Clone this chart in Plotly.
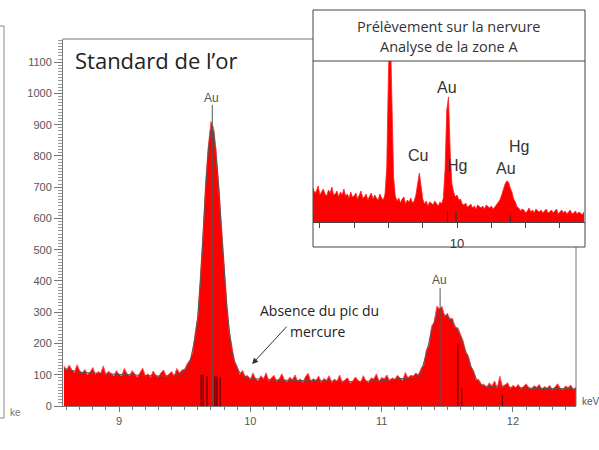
import plotly.graph_objects as go

# ---------------- main spectrum (Standard de l'or) ----------------
main_start_kev = 8.58
main_step_kev = 0.02
main_counts = [
    128, 115, 131, 116, 107, 132, 113, 106, 117, 100, 109, 123, 101, 110, 105, 128, 100, 111, 104, 96,
    113, 101, 96, 120, 104, 97, 113, 101, 92, 107, 121, 96, 103, 92, 112, 98, 93, 107, 115, 94,
    101, 110, 95, 120, 106, 115, 118, 136, 148, 170, 234, 284, 418, 550, 720, 832, 910, 888, 815, 692,
    574, 424, 332, 235, 185, 143, 127, 101, 114, 95, 97, 85, 106, 87, 81, 97, 87, 106, 81, 89,
    98, 80, 87, 103, 83, 78, 92, 84, 99, 80, 87, 76, 94, 105, 80, 87, 82, 96, 76, 88,
    82, 97, 75, 86, 79, 99, 75, 84, 90, 73, 80, 93, 82, 76, 97, 81, 75, 90, 86, 103,
    79, 91, 87, 99, 80, 90, 85, 98, 89, 82, 107, 90, 98, 96, 105, 99, 120, 130, 179, 194,
    255, 268, 319, 311, 318, 287, 297, 279, 280, 250, 250, 226, 209, 172, 161, 127, 113, 84, 84, 69,
    69, 60, 74, 64, 80, 58, 95, 62, 69, 74, 55, 66, 59, 69, 56, 62, 71, 59, 54, 65,
    60, 69, 54, 62, 57, 66, 52, 60, 71, 57, 52, 64, 59, 67, 53, 60,
]
main_kev = [round(main_start_kev + main_step_kev * i, 3) for i in range(len(main_counts))]

fit_kev = [8.58, 8.70, 8.90, 9.10, 9.30, 9.40, 9.46, 9.50, 9.54, 9.58, 9.60, 9.62, 9.64, 9.66,
           9.68, 9.70, 9.72, 9.74, 9.76, 9.78, 9.80, 9.82, 9.84, 9.86, 9.88, 9.90, 9.94, 10.00,
           10.20, 10.50, 10.80, 11.00, 11.20, 11.26, 11.30, 11.34, 11.38, 11.42, 11.44, 11.48,
           11.52, 11.56, 11.60, 11.64, 11.68, 11.72, 11.76, 11.80, 12.00, 12.20, 12.48]
fit_counts = [120, 108, 103, 99, 96, 97, 102, 112, 140, 220, 290, 400, 560, 700,
              820, 885, 880, 800, 700, 560, 430, 320, 240, 175, 140, 118, 98, 88,
              83, 80, 78, 81, 88, 92, 110, 165, 240, 295, 305, 292,
              276, 256, 222, 175, 125, 88, 66, 62, 59, 56, 55]

# element marker lines (keV, top in counts)
au_line_kev = [9.71, 11.445]
au_line_top = [963, 377]
minor_line_kev = [9.625, 9.64, 9.67, 9.73, 9.745, 9.77, 11.58, 11.61, 11.92]
minor_line_top = [100, 100, 95, 95, 95, 92, 200, 58, 35]

main_yticks = [0, 100, 200, 300, 400, 500, 600, 700, 800, 900, 1000, 1100]
main_xticks = [9, 10, 11, 12]

# ---------------- inset spectrum (zone A) ----------------
inset_start_kev = 5.80
inset_step_kev = 0.05
inset_counts = [
    34, 29, 31, 36, 27, 30, 33, 28, 26, 32, 29, 35, 27, 28, 31, 25, 30, 27, 33, 26,
    28, 24, 30, 25, 26, 29, 23, 27, 31, 24, 25, 28, 22, 26, 29, 23, 27, 24, 22, 28,
    24, 22, 28, 55, 150, 200, 120, 45, 26, 21, 24, 19, 23, 25, 18, 22, 20, 24, 19, 21,
    27, 38, 49, 36, 23, 18, 21, 16, 20, 19, 17, 21, 18, 16, 20, 18, 24, 52, 112, 125,
    70, 38, 30, 25, 27, 22, 23, 18, 17, 19, 15, 16, 18, 14, 16, 13, 17, 15, 14, 16,
    13, 17, 15, 14, 16, 13, 15, 17, 19, 22, 27, 33, 38, 41, 40, 34, 30, 23, 20, 15,
    14, 11, 13, 12, 9, 11, 14, 10, 12, 9, 13, 11, 10, 12, 9, 11, 13, 9, 10, 12,
    9, 11, 13, 8, 10, 12, 9, 11, 8, 10, 12, 8, 9, 11, 8, 10, 9, 7, 10,
]
inset_kev = [round(inset_start_kev + inset_step_kev * i, 3) for i in range(len(inset_counts))]
inset_marker_kev = [9.72, 9.97, 11.55]
inset_marker_top = [10, 10, 7]
inset_xticks = [6, 7, 8, 9, 10, 11, 12, 13]
inset_xticktext = ["", "", "", "", "10", "", "", ""]

inset_labels = [("Au", 447, 88), ("Cu", 418, 155), ("Hg", 457, 165), ("Hg", 519, 147), ("Au", 506, 168)]

W, H = 599, 442


def px(x):
    return x / W


def py(y):
    return 1 - y / H


fig = go.Figure()

# main spectrum
fig.add_trace(go.Scatter(x=main_kev, y=main_counts, mode="lines",
                         line=dict(color="#ff5050", width=1),
                         fill="tozeroy", fillcolor="#ff0000", hoverinfo="skip",
                         xaxis="x", yaxis="y"))

# marker lines
mx, my = [], []
for k, t in zip(au_line_kev, au_line_top):
    mx += [k, k, None]
    my += [0, t, None]
fig.add_trace(go.Scatter(x=mx, y=my, mode="lines", line=dict(color="#555555", width=1),
                         hoverinfo="skip", xaxis="x", yaxis="y"))
nx, ny = [], []
for k, t in zip(minor_line_kev, minor_line_top):
    nx += [k, k, None]
    ny += [0, t, None]
fig.add_trace(go.Scatter(x=nx, y=ny, mode="lines", line=dict(color="#5a0000", width=1.2),
                         hoverinfo="skip", xaxis="x", yaxis="y"))

# fit line
fig.add_trace(go.Scatter(x=fit_kev, y=fit_counts, mode="lines",
                         line=dict(color="#555555", width=1), hoverinfo="skip",
                         xaxis="x", yaxis="y"))

# inset spectrum
fig.add_trace(go.Scatter(x=inset_kev, y=inset_counts, mode="lines",
                         line=dict(color="#ff2020", width=0.8),
                         fill="tozeroy", fillcolor="#ff0000", hoverinfo="skip",
                         xaxis="x2", yaxis="y2"))
ix, iy = [], []
for k, t in zip(inset_marker_kev, inset_marker_top):
    ix += [k, k, None]
    iy += [0, t, None]
fig.add_trace(go.Scatter(x=ix, y=iy, mode="lines", line=dict(color="#333333", width=1.2),
                         hoverinfo="skip", xaxis="x2", yaxis="y2"))

tickfont = dict(family="Liberation Sans", size=11, color="#555555")
axcol = "#777777"

fig.update_layout(
    width=W, height=H, margin=dict(l=0, r=0, t=0, b=0, pad=0),
    paper_bgcolor="white", plot_bgcolor="white", showlegend=False,
    xaxis=dict(domain=[px(63), px(576)], range=[8.573, 12.48], showgrid=False, zeroline=False,
               showline=True, linecolor=axcol, linewidth=1,
               tickvals=main_xticks, ticks="outside", ticklen=5, tickcolor=axcol,
               minor=dict(dtick=0.1, tick0=0, ticks="outside", ticklen=3, tickcolor=axcol),
               tickfont=tickfont, anchor="y", automargin=False),
    yaxis=dict(domain=[py(406), py(39)], range=[0, 1174], showgrid=False, zeroline=False,
               showline=True, linecolor=axcol, linewidth=1,
               tickvals=main_yticks, ticks="outside", ticklen=8, tickcolor=axcol,
               minor=dict(dtick=10, tick0=0, ticks="outside", ticklen=4, tickcolor="#999999"),
               tickfont=tickfont, anchor="x", automargin=False),
    xaxis2=dict(domain=[px(313), px(585)], range=[5.8, 13.73], showgrid=False, zeroline=False,
                showline=True, linecolor="#444444", linewidth=1,
                tickvals=inset_xticks, ticktext=inset_xticktext, ticks="outside", ticklen=5,
                tickcolor="#444444", ticklabelstandoff=4, automargin=False,
                tickfont=dict(family="Liberation Sans", size=13, color="#333333"), anchor="y2"),
    yaxis2=dict(domain=[py(222), py(61)], range=[0, 161], visible=False, anchor="x2"),
)

shapes = [
    # main frame top & right
    dict(type="line", xref="paper", yref="paper", x0=px(63), x1=px(313), y0=py(39), y1=py(39),
         line=dict(color=axcol, width=1)),
    dict(type="line", xref="paper", yref="paper", x0=px(576), x1=px(576), y0=py(247), y1=py(406),
         line=dict(color=axcol, width=1)),
    # inset box
    dict(type="rect", xref="paper", yref="paper", x0=px(313), x1=px(585), y0=py(247), y1=py(10),
         line=dict(color="#444444", width=1), fillcolor="rgba(0,0,0,0)"),
    dict(type="line", xref="paper", yref="paper", x0=px(313), x1=px(585), y0=py(61), y1=py(61),
         line=dict(color="#444444", width=1)),
    # left fragment frame
    dict(type="line", xref="paper", yref="paper", x0=0, x1=px(4), y0=py(26), y1=py(26),
         line=dict(color="#888888", width=1)),
    dict(type="line", xref="paper", yref="paper", x0=px(4), x1=px(4), y0=py(26), y1=py(418),
         line=dict(color="#888888", width=1)),
    dict(type="line", xref="paper", yref="paper", x0=0, x1=px(4), y0=py(418), y1=py(418),
         line=dict(color="#888888", width=1)),
]
fig.update_layout(shapes=shapes)

calibri = "Open Sans"
ann = [
    dict(text="Standard de l’or", x=px(73), y=py(60), xanchor="left", yanchor="middle",
         font=dict(family=calibri, size=22, color="#222222")),
    dict(text="Au", x=px(212), y=py(98), xanchor="center", yanchor="middle",
         font=dict(family="Liberation Sans", size=12, color="#555555")),
    dict(text="Au", x=px(439), y=py(280), xanchor="center", yanchor="middle",
         font=dict(family="Liberation Sans", size=12, color="#555555")),
    dict(text="Absence du pic du", x=px(319), y=py(310), xanchor="center", yanchor="middle",
         font=dict(family=calibri, size=14, color="#222222")),
    dict(text="mercure", x=px(318), y=py(331), xanchor="center", yanchor="middle",
         font=dict(family=calibri, size=14, color="#222222")),
    dict(text="Prélèvement sur la nervure", x=px(449), y=py(26), xanchor="center",
         yanchor="middle", font=dict(family=calibri, size=14.5, color="#333333")),
    dict(text="Analyse de la zone A", x=px(449), y=py(47), xanchor="center",
         yanchor="middle", font=dict(family=calibri, size=14.5, color="#333333")),
    dict(text="ke", x=px(8), y=py(412), xanchor="left", yanchor="middle",
         font=dict(family="Liberation Sans", size=10, color="#777777")),
    dict(text="keV", x=px(580), y=py(401), xanchor="left", yanchor="middle",
         font=dict(family="Liberation Sans", size=10, color="#555555")),
    # arrow
    dict(text="", x=10.013, y=134, xref="x", yref="y", showarrow=True, arrowhead=2,
         arrowsize=1.2, arrowwidth=1, arrowcolor="#333333", ax=36, ay=-39),
]
for t, xx, yy in inset_labels:
    ann.append(dict(text=t, x=px(xx), y=py(yy), xanchor="center", yanchor="middle",
                    font=dict(family="Liberation Sans", size=16, color="#333333")))
for a in ann:
    a.setdefault("xref", "paper")
    a.setdefault("yref", "paper")
    a.setdefault("showarrow", False)
fig.update_layout(annotations=ann)

fig.write_html("out.html")
